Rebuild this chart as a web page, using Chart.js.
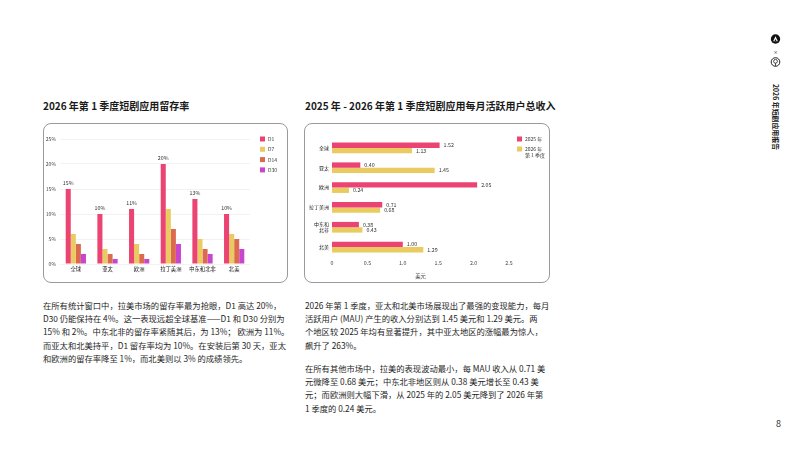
<!DOCTYPE html>
<html>
<head>
<meta charset="utf-8">
<script src="https://cdn.jsdelivr.net/npm/chart.js@4.4.1/dist/chart.umd.min.js"></script>
<style>
  html, body { margin: 0; padding: 0; background: #fff; }
  body { width: 800px; height: 450px; position: relative; overflow: hidden;
         font-family: "Noto Sans CJK SC", "Noto Sans", sans-serif; color: #1a1a1a; }
  .title { position: absolute; top: 99px; font-size: 10px; font-weight: 700; line-height: 14px; white-space: nowrap; }
  .card { position: absolute; top: 123px; height: 160px; border: 1px solid #9a9a9a; border-radius: 8px; box-sizing: border-box; overflow: hidden; }
  .card canvas { position: absolute; left: -1px; top: -1px; }
  .para { position: absolute; font-size: 8.3px; line-height: 13.2px; white-space: nowrap; color: #1f1f1f; }
  .side { position: absolute; left: 775.5px; top: 116.5px; transform: translate(-50%, -50%) rotate(90deg);
          font-size: 6.9px; font-weight: 700; white-space: nowrap; }
  .page { position: absolute; left: 776px; top: 417px; font-size: 9px; color: #333; }
</style>
</head>
<body>

<div class="title" style="left:43px">2026 年第 1 季度短剧应用留存率</div>
<div class="title" style="left:305px">2025 年 - 2026 年第 1 季度短剧应用每月活跃用户总收入</div>

<div class="card" style="left:43px; width:245px"><canvas id="retention" width="245" height="160"></canvas></div>
<div class="card" style="left:304px; width:246px"><canvas id="mau" width="246" height="160"></canvas></div>

<div class="para" style="left:43px; top:299px">
在所有统计窗口中，拉美市场的留存率最为抢眼，D1 高达 20%，<br>
D30 仍能保持在 4%。这一表现远超全球基准——D1 和 D30 分别为<br>
15% 和 2%。中东北非的留存率紧随其后，为 13%；&nbsp;欧洲为 11%。<br>
而亚太和北美持平，D1 留存率均为 10%。在安装后第 30 天，亚太<br>
和欧洲的留存率降至 1%，而北美则以 3% 的成绩领先。
</div>

<div class="para" style="left:305px; top:299px">
2026 年第 1 季度，亚太和北美市场展现出了最强的变现能力，每月<br>
活跃用户 (MAU) 产生的收入分别达到 1.45 美元和 1.29 美元。两<br>
个地区较 2025 年均有显著提升，其中亚太地区的涨幅最为惊人，<br>
飙升了 263%。
</div>

<div class="para" style="left:305px; top:362px">
在所有其他市场中，拉美的表现波动最小，每 MAU 收入从 0.71 美<br>
元微降至 0.68 美元；中东北非地区则从 0.38 美元增长至 0.43 美<br>
元；而欧洲则大幅下滑，从 2025 年的 2.05 美元降到了 2026 年第<br>
1 季度的 0.24 美元。
</div>

<!-- sidebar logos -->
<svg style="position:absolute; left:769px; top:33px" width="13" height="36" viewBox="0 0 13 36">
  <circle cx="6.5" cy="6" r="4.7" fill="#111"/>
  <path d="M4.2 8.3 L6.5 3.2 L8.8 8.3 Z" fill="#fff"/>
  <path d="M5.4 8.3 L6.5 5.9 L7.6 8.3 Z" fill="#111"/>
  <text x="6.5" y="20.5" font-size="5" text-anchor="middle" fill="#333" font-family="DejaVu Sans">×</text>
  <circle cx="6.5" cy="29" r="4.3" fill="none" stroke="#222" stroke-width="1"/>
  <circle cx="6.5" cy="28.3" r="1.9" fill="none" stroke="#222" stroke-width="0.8"/>
  <line x1="6.5" y1="30.2" x2="6.5" y2="33" stroke="#222" stroke-width="0.8"/>
</svg>
<div class="side">2026 年短剧应用报告</div>
<div class="page">8</div>

<script>
// retention data (%)
const regions = ['全球', '亚太', '欧洲', '拉丁美洲', '中东和北非', '北美'];
const d1 = [15, 10, 11, 20, 13, 10];
const d7 = [6, 3, 4, 11, 5, 6];
const d14 = [4, 2, 2, 7, 3, 5];
const d30 = [2, 1, 1, 4, 2, 3];
const retentionTicks = [0, 5, 10, 15, 20, 25];

// monthly revenue per MAU (USD)
const mauRegions = ['全球', '亚太', '欧洲', '拉丁美洲', ['中东和', '北非'], '北美'];
const mau2025 = [1.52, 0.40, 2.05, 0.71, 0.38, 1.00];
const mau2026 = [1.13, 1.45, 0.24, 0.68, 0.43, 1.29];
const mauTicks = [0, 0.5, 1, 1.5, 2, 2.5];

const colors = {
    pink: '#EC4472',
    yellow: '#EACB62',
    rust: '#DC6A4E',
    magenta: '#C845CF',
    text: '#444',
    grid: 'rgba(0, 0, 0, 0.05)'
};
const FONT = '"Noto Sans CJK SC", "Noto Sans", sans-serif';

// small legend drawn beside the plot
function sideLegend(offsetX, offsetY, gap) {
    return {
        id: 'sideLegend',
        afterDraw(chart) {
            const ctx = chart.ctx;
            const area = chart.chartArea;
            let y = area.top + offsetY;
            ctx.save();
            ctx.font = '5px ' + FONT;
            ctx.textBaseline = 'middle';
            chart.data.datasets.forEach(ds => {
                const lines = [].concat(ds.label);
                ctx.fillStyle = ds.backgroundColor;
                ctx.fillRect(area.right + offsetX, y - 2.5, 5, 5);
                ctx.fillStyle = '#333';
                lines.forEach((l, i) => ctx.fillText(l, area.right + offsetX + 8, y + i * 6.2));
                y += gap + (lines.length - 1) * 6.2;
            });
            ctx.restore();
        }
    };
}

// value labels
const retentionLabels = {
    id: 'retentionLabels',
    afterDatasetsDraw(chart) {
        const ctx = chart.ctx;
        const meta = chart.getDatasetMeta(0);
        ctx.save();
        ctx.font = '5.3px ' + FONT;
        ctx.fillStyle = '#333';
        ctx.textAlign = 'center';
        ctx.textBaseline = 'bottom';
        meta.data.forEach((bar, i) => {
            ctx.fillText(chart.data.datasets[0].data[i] + '%', bar.x, bar.y - 3);
        });
        ctx.restore();
    }
};

const mauLabels = {
    id: 'mauLabels',
    afterDatasetsDraw(chart) {
        const ctx = chart.ctx;
        ctx.save();
        ctx.font = '5.3px ' + FONT;
        ctx.fillStyle = '#333';
        ctx.textAlign = 'left';
        ctx.textBaseline = 'middle';
        chart.data.datasets.forEach((ds, di) => {
            chart.getDatasetMeta(di).data.forEach((bar, i) => {
                ctx.fillText(ds.data[i].toFixed(2), bar.x + 4, bar.y);
            });
        });
        ctx.restore();
    }
};

Chart.defaults.font.family = FONT;
Chart.defaults.color = colors.text;

new Chart(document.getElementById('retention'), {
    type: 'bar',
    data: {
        labels: regions,
        datasets: [
            { label: 'D1', data: d1, backgroundColor: colors.pink },
            { label: 'D7', data: d7, backgroundColor: colors.yellow },
            { label: 'D14', data: d14, backgroundColor: colors.rust },
            { label: 'D30', data: d30, backgroundColor: colors.magenta }
        ]
    },
    options: {
        responsive: false,
        animation: false,
        layout: { padding: { left: 0, right: 38, top: 16, bottom: 0 } },
        datasets: { bar: { categoryPercentage: 0.64, barPercentage: 1 } },
        plugins: { legend: { display: false }, tooltip: { enabled: false } },
        scales: {
            x: {
                grid: { display: false, drawTicks: false },
                border: { display: false },
                ticks: { font: { size: 5.3 }, color: '#222', padding: 2, maxRotation: 0 },
                afterFit: s => { s.height = 19; }
            },
            y: {
                min: 0,
                max: 25,
                afterBuildTicks: s => { s.ticks = retentionTicks.map(v => ({ value: v })); },
                grid: { color: colors.grid, drawTicks: false },
                border: { display: false },
                ticks: { font: { size: 5 }, padding: 4, callback: v => v + '%' },
                afterFit: s => { s.width = 17; }
            }
        }
    },
    plugins: [retentionLabels, sideLegend(10, 0, 10.3)]
});

new Chart(document.getElementById('mau'), {
    type: 'bar',
    data: {
        labels: mauRegions,
        datasets: [
            { label: '2025 年', data: mau2025, backgroundColor: colors.pink },
            { label: ['2026 年', '第 1 季度'], data: mau2026, backgroundColor: colors.yellow }
        ]
    },
    options: {
        indexAxis: 'y',
        responsive: false,
        animation: false,
        layout: { padding: { left: 0, right: 41, top: 15, bottom: 0 } },
        datasets: { bar: { categoryPercentage: 0.54, barPercentage: 1 } },
        plugins: { legend: { display: false }, tooltip: { enabled: false } },
        scales: {
            x: {
                min: 0,
                max: 2.5,
                afterBuildTicks: s => { s.ticks = mauTicks.map(v => ({ value: v })); },
                grid: { display: false, drawTicks: false },
                border: { display: false },
                ticks: { font: { size: 5.3 }, padding: 3 },
                title: { display: true, text: '美元', font: { size: 5.3 }, color: '#333', padding: { top: 2 } },
                afterFit: s => { s.height = 26; }
            },
            y: {
                grid: { display: false, drawTicks: false },
                border: { display: false },
                ticks: { font: { size: 5 }, color: '#222', padding: 3, autoSkip: false },
                afterFit: s => { s.width = 28; }
            }
        }
    },
    plugins: [mauLabels, sideLegend(8, 1, 10)]
});
</script>
</body>
</html>
